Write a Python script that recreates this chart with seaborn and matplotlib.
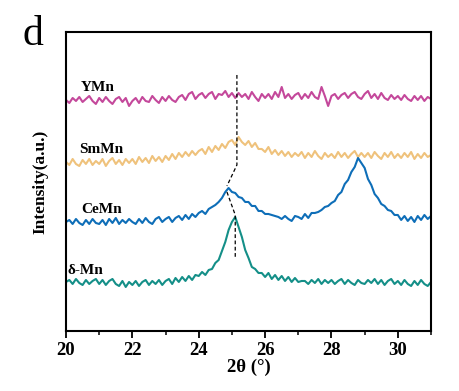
import numpy as np
import pandas as pd
import matplotlib.pyplot as plt
import seaborn as sns

# 2theta sampling grid (0.1 deg steps, 20 -> 31)
two_theta = np.round(np.linspace(20.0, 31.0, 111), 2)

# intensities (arbitrary units, already stacked)
ymn = [231, 228, 233, 230, 234, 229, 232, 235, 230, 227,
       233, 229, 234, 230, 227, 232, 234, 229, 233, 225,
       230, 233, 228, 234, 230, 229, 235, 231, 228, 234,
       230, 235, 231, 229, 234, 236, 231, 237, 239, 232,
       236, 238, 233, 237, 239, 232, 237, 236, 240, 234,
       238, 233, 238, 234, 237, 232, 239, 234, 230, 237,
       233, 237, 232, 239, 234, 244, 233, 237, 232, 236,
       238, 232, 237, 233, 239, 234, 232, 244, 235, 225,
       235, 237, 232, 236, 238, 233, 237, 239, 234, 232,
       237, 240, 233, 237, 232, 238, 233, 231, 236, 232,
       235, 231, 236, 232, 230, 235, 231, 235, 230, 234,
       232]

smmn = [169, 166, 172, 167, 165, 171, 167, 172, 166, 170,
        167, 172, 165, 170, 173, 167, 171, 166, 172, 168,
        172, 167, 174, 169, 173, 168, 175, 170, 174, 169,
        175, 171, 177, 172, 178, 174, 179, 175, 180, 176,
        180, 182, 177, 184, 179, 185, 181, 187, 183, 189,
        191, 186, 194, 189, 186, 190, 184, 188, 182, 182,
        179, 184, 177, 181, 176, 180, 175, 179, 174, 178,
        175, 179, 173, 178, 174, 180, 175, 172, 178, 174,
        177, 173, 179, 174, 178, 173, 177, 180, 174, 178,
        174, 178, 173, 179, 175, 172, 178, 174, 179, 173,
        177, 173, 178, 174, 179, 172, 177, 173, 178, 174,
        176]

cemn = [109, 111, 107, 112, 108, 106, 111, 107, 112, 108,
        107, 111, 106, 112, 108, 113, 107, 111, 108, 112,
        109, 107, 112, 108, 113, 109, 107, 112, 114, 109,
        112, 114, 109, 113, 115, 111, 116, 112, 117, 114,
        118, 120, 117, 122, 124, 126, 129, 133, 139, 143,
        139, 138, 134, 133, 129, 129, 125, 125, 120, 120,
        117, 117, 116, 115, 114, 112, 115, 112, 110, 115,
        114, 112, 117, 113, 118, 118, 119, 121, 124, 125,
        128, 130, 136, 139, 147, 151, 159, 164, 173, 168,
        163, 152, 146, 137, 133, 127, 125, 121, 120, 116,
        116, 111, 115, 110, 114, 109, 115, 111, 116, 112,
        115]

dmn = [49, 51, 47, 52, 48, 46, 51, 47, 50, 52,
       47, 51, 46, 50, 52, 47, 45, 50, 44, 49,
       46, 50, 45, 49, 51, 46, 50, 47, 51, 46,
       50, 52, 47, 53, 49, 54, 50, 55, 51, 56,
       55, 59, 56, 61, 62, 68, 71, 80, 89, 101,
       109, 114, 104, 94, 81, 73, 64, 62, 58, 58,
       54, 58, 52, 56, 51, 55, 50, 54, 49, 53,
       49, 50, 50, 47, 51, 48, 52, 47, 51, 48,
       51, 47, 50, 52, 47, 51, 48, 46, 51, 48,
       47, 51, 48, 52, 47, 51, 46, 50, 52, 47,
       50, 46, 51, 47, 45, 50, 46, 51, 47, 45,
       49]

samples = ['YMn', 'SmMn', 'CeMn', 'δ-Mn']
colors = ['#C4489B', '#EFC27C', '#0E6EB8', '#148F88']
label_pos = [(20.45, 243), (20.4, 181), (20.45, 121), (20.05, 60)]

# dashed guide following the peak shift
guide_top_x = [25.15, 25.15, 24.85]
guide_top_y = [256, 166, 145]
guide_bot_x = [24.85, 25.1, 25.1]
guide_bot_y = [139, 116, 73]

df = pd.DataFrame({
    'two_theta': np.tile(two_theta, 4),
    'intensity': np.concatenate([ymn, smmn, cemn, dmn]),
    'sample': np.repeat(samples, len(two_theta)),
})

sns.set_theme(style="ticks")
plt.rcParams['font.family'] = ['Liberation Serif', 'DejaVu Serif']
for key in ['text.color', 'axes.labelcolor', 'xtick.color', 'ytick.color']:
    plt.rcParams[key] = 'black'

fig = plt.figure(figsize=(4.6, 3.91), dpi=100)
ax = fig.add_axes([0.1435, 0.1535, 0.7935, 0.7647])

sns.lineplot(data=df, x='two_theta', y='intensity', hue='sample',
             palette=dict(zip(samples, colors)), linewidth=1.5,
             legend=False, ax=ax)

ax.plot(guide_top_x, guide_top_y, ls=(0, (3, 2)), color='black', lw=0.9)
ax.plot(guide_bot_x, guide_bot_y, ls=(0, (3, 2)), color='black', lw=0.9)

for name, (lx, ly) in zip(samples, label_pos):
    ax.text(lx, ly, name, fontsize=11, fontweight='bold', ha='left', va='center')

ax.set_xlim(20, 31)
ax.set_ylim(0, 299)
ax.set_xticks([20, 22, 24, 26, 28, 30])
ax.set_xticks([21, 23, 25, 27, 29, 31], minor=True)
ax.set_yticks([])
ax.tick_params(axis='x', which='major', direction='out', length=5, width=1.3,
               labelsize=13.5, pad=3)
ax.tick_params(axis='x', which='minor', direction='out', length=3, width=1.1)
for lab in ax.get_xticklabels():
    lab.set_fontweight('bold')

ax.set_xlabel('2θ (°)', fontsize=13.5, fontweight='bold', labelpad=0)
ax.set_ylabel('Intensity(a.u.)', fontsize=12.5, fontweight='bold', labelpad=13)

for sp in ax.spines.values():
    sp.set_linewidth(1.5)
    sp.set_color('black')

fig.text(0.05, 0.885, 'd', fontsize=30)

plt.savefig('out.png', dpi=100)
